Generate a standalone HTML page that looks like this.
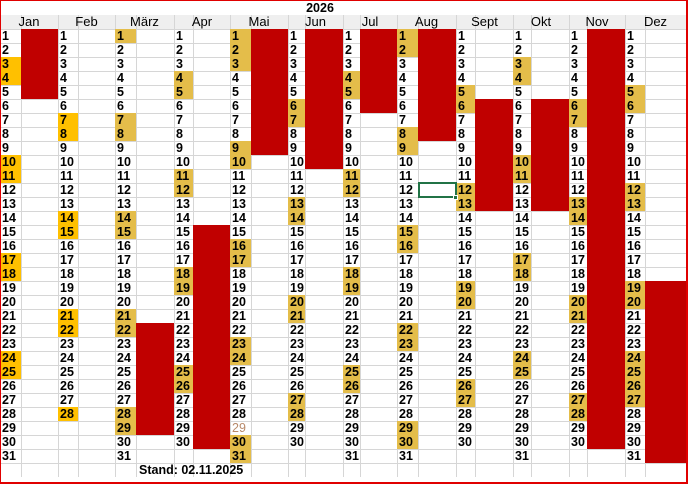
<!DOCTYPE html>
<html><head><meta charset="utf-8"><style>
*{margin:0;padding:0;box-sizing:border-box}
body{width:689px;height:484px;background:#fff;position:relative;overflow:hidden;font-family:"Liberation Sans",Arial,sans-serif;font-weight:bold;font-size:12.5px;color:#000}
#grid{position:absolute;left:0;top:15px;width:687px;height:462px;background:repeating-linear-gradient(to bottom,#d6d6d6 0 1px,transparent 1px 14px)}
.v{position:absolute;top:15px;height:462px;width:1px;background:#d6d6d6}
#hdr{position:absolute;left:0;top:15px;width:687px;height:14px;background:#efefef}
.m{position:absolute;top:15px;height:14px;line-height:14px;text-align:center;font-size:13px;font-weight:normal}
.c{position:absolute;top:29px}
.c i{display:block;font-style:normal;height:14px;line-height:14px;padding-left:2px}
.c i.o{background:#ffc000}
.c i.h{background:#e4bd4a}
.r{position:absolute;background:#c00000}
#frame{position:absolute;left:0;top:0;width:688px;height:484px;border:2px solid #e00000;border-left-width:1px;border-top-width:1px}
</style></head><body>
<div id="grid"></div>
<div id="hdr"></div>
<div class="v" style="left:21px"></div><div class="v" style="left:58px"></div><div class="v" style="left:78px"></div><div class="v" style="left:115px"></div><div class="v" style="left:136px"></div><div class="v" style="left:174px"></div><div class="v" style="left:193px"></div><div class="v" style="left:230px"></div><div class="v" style="left:251px"></div><div class="v" style="left:288px"></div><div class="v" style="left:305px"></div><div class="v" style="left:343px"></div><div class="v" style="left:360px"></div><div class="v" style="left:397px"></div><div class="v" style="left:418px"></div><div class="v" style="left:456px"></div><div class="v" style="left:475px"></div><div class="v" style="left:513px"></div><div class="v" style="left:531px"></div><div class="v" style="left:569px"></div><div class="v" style="left:587px"></div><div class="v" style="left:625px"></div><div class="v" style="left:645px"></div>
<div style="position:absolute;left:290px;top:1px;width:60px;text-align:center;line-height:14px">2026</div>
<div class="m" style="left:0;width:58px">Jan</div>
<div class="m" style="left:58px;width:57px">Feb</div>
<div class="m" style="left:115px;width:59px">März</div>
<div class="m" style="left:174px;width:56px">Apr</div>
<div class="m" style="left:230px;width:58px">Mai</div>
<div class="m" style="left:288px;width:55px">Jun</div>
<div class="m" style="left:343px;width:54px">Jul</div>
<div class="m" style="left:397px;width:59px">Aug</div>
<div class="m" style="left:456px;width:57px">Sept</div>
<div class="m" style="left:513px;width:56px">Okt</div>
<div class="m" style="left:569px;width:56px">Nov</div>
<div class="m" style="left:625px;width:61px">Dez</div>

<div class="r" style="left:21px;top:29px;width:37px;height:70px"></div>
<div class="r" style="left:136px;top:323px;width:38px;height:112px"></div>
<div class="r" style="left:193px;top:225px;width:37px;height:224px"></div>
<div class="r" style="left:251px;top:29px;width:37px;height:126px"></div>
<div class="r" style="left:305px;top:29px;width:38px;height:140px"></div>
<div class="r" style="left:360px;top:29px;width:37px;height:84px"></div>
<div class="r" style="left:418px;top:29px;width:38px;height:112px"></div>
<div class="r" style="left:475px;top:99px;width:38px;height:112px"></div>
<div class="r" style="left:531px;top:99px;width:38px;height:112px"></div>
<div class="r" style="left:587px;top:29px;width:38px;height:420px"></div>
<div class="r" style="left:645px;top:281px;width:41px;height:182px"></div>

<div class="c" style="left:0;width:21px"><i>1</i><i>2</i><i class="o">3</i><i class="o">4</i><i>5</i><i>6</i><i>7</i><i>8</i><i>9</i><i class="o">10</i><i class="o">11</i><i>12</i><i>13</i><i>14</i><i>15</i><i>16</i><i class="o">17</i><i class="o">18</i><i>19</i><i>20</i><i>21</i><i>22</i><i>23</i><i class="o">24</i><i class="o">25</i><i>26</i><i>27</i><i>28</i><i>29</i><i>30</i><i>31</i></div>
<div class="c" style="left:58px;width:20px"><i>1</i><i>2</i><i>3</i><i>4</i><i>5</i><i>6</i><i class="o">7</i><i class="o">8</i><i>9</i><i>10</i><i>11</i><i>12</i><i>13</i><i class="o">14</i><i class="o">15</i><i>16</i><i>17</i><i>18</i><i>19</i><i>20</i><i class="o">21</i><i class="o">22</i><i>23</i><i>24</i><i>25</i><i>26</i><i>27</i><i class="o">28</i></div>
<div class="c" style="left:115px;width:21px"><i class="h">1</i><i>2</i><i>3</i><i>4</i><i>5</i><i>6</i><i class="h">7</i><i class="h">8</i><i>9</i><i>10</i><i>11</i><i>12</i><i>13</i><i class="h">14</i><i class="h">15</i><i>16</i><i>17</i><i>18</i><i>19</i><i>20</i><i class="h">21</i><i class="h">22</i><i>23</i><i>24</i><i>25</i><i>26</i><i>27</i><i class="h">28</i><i class="h">29</i><i>30</i><i>31</i></div>
<div class="c" style="left:174px;width:19px"><i>1</i><i>2</i><i>3</i><i class="h">4</i><i class="h">5</i><i>6</i><i>7</i><i>8</i><i>9</i><i>10</i><i class="h">11</i><i class="h">12</i><i>13</i><i>14</i><i>15</i><i>16</i><i>17</i><i class="h">18</i><i class="h">19</i><i>20</i><i>21</i><i>22</i><i>23</i><i>24</i><i class="h">25</i><i class="h">26</i><i>27</i><i>28</i><i>29</i><i>30</i></div>
<div class="c" style="left:230px;width:21px"><i class="h">1</i><i class="h">2</i><i class="h">3</i><i>4</i><i>5</i><i>6</i><i>7</i><i>8</i><i class="h">9</i><i class="h">10</i><i>11</i><i>12</i><i>13</i><i>14</i><i>15</i><i class="h">16</i><i class="h">17</i><i>18</i><i>19</i><i>20</i><i>21</i><i>22</i><i class="h">23</i><i class="h">24</i><i>25</i><i>26</i><i>27</i><i>28</i><i style="color:#b98a6a;font-weight:normal">29</i><i class="h">30</i><i class="h">31</i></div>
<div class="c" style="left:288px;width:17px"><i>1</i><i>2</i><i>3</i><i>4</i><i>5</i><i class="h">6</i><i class="h">7</i><i>8</i><i>9</i><i>10</i><i>11</i><i>12</i><i class="h">13</i><i class="h">14</i><i>15</i><i>16</i><i>17</i><i>18</i><i>19</i><i class="h">20</i><i class="h">21</i><i>22</i><i>23</i><i>24</i><i>25</i><i>26</i><i class="h">27</i><i class="h">28</i><i>29</i><i>30</i></div>
<div class="c" style="left:343px;width:17px"><i>1</i><i>2</i><i>3</i><i class="h">4</i><i class="h">5</i><i>6</i><i>7</i><i>8</i><i>9</i><i>10</i><i class="h">11</i><i class="h">12</i><i>13</i><i>14</i><i>15</i><i>16</i><i>17</i><i class="h">18</i><i class="h">19</i><i>20</i><i>21</i><i>22</i><i>23</i><i>24</i><i class="h">25</i><i class="h">26</i><i>27</i><i>28</i><i>29</i><i>30</i><i>31</i></div>
<div class="c" style="left:397px;width:21px"><i class="h">1</i><i class="h">2</i><i>3</i><i>4</i><i>5</i><i>6</i><i>7</i><i class="h">8</i><i class="h">9</i><i>10</i><i>11</i><i>12</i><i>13</i><i>14</i><i class="h">15</i><i class="h">16</i><i>17</i><i>18</i><i>19</i><i>20</i><i>21</i><i class="h">22</i><i class="h">23</i><i>24</i><i>25</i><i>26</i><i>27</i><i>28</i><i class="h">29</i><i class="h">30</i><i>31</i></div>
<div class="c" style="left:456px;width:19px"><i>1</i><i>2</i><i>3</i><i>4</i><i class="h">5</i><i class="h">6</i><i>7</i><i>8</i><i>9</i><i>10</i><i>11</i><i class="h">12</i><i class="h">13</i><i>14</i><i>15</i><i>16</i><i>17</i><i>18</i><i class="h">19</i><i class="h">20</i><i>21</i><i>22</i><i>23</i><i>24</i><i>25</i><i class="h">26</i><i class="h">27</i><i>28</i><i>29</i><i>30</i></div>
<div class="c" style="left:513px;width:18px"><i>1</i><i>2</i><i class="h">3</i><i class="h">4</i><i>5</i><i>6</i><i>7</i><i>8</i><i>9</i><i class="h">10</i><i class="h">11</i><i>12</i><i>13</i><i>14</i><i>15</i><i>16</i><i class="h">17</i><i class="h">18</i><i>19</i><i>20</i><i>21</i><i>22</i><i>23</i><i class="h">24</i><i class="h">25</i><i>26</i><i>27</i><i>28</i><i>29</i><i>30</i><i>31</i></div>
<div class="c" style="left:569px;width:18px"><i>1</i><i>2</i><i>3</i><i>4</i><i>5</i><i class="h">6</i><i class="h">7</i><i>8</i><i>9</i><i>10</i><i>11</i><i>12</i><i class="h">13</i><i class="h">14</i><i>15</i><i>16</i><i>17</i><i>18</i><i>19</i><i class="h">20</i><i class="h">21</i><i>22</i><i>23</i><i>24</i><i>25</i><i>26</i><i class="h">27</i><i class="h">28</i><i>29</i><i>30</i></div>
<div class="c" style="left:625px;width:20px"><i>1</i><i>2</i><i>3</i><i>4</i><i class="h">5</i><i class="h">6</i><i>7</i><i>8</i><i>9</i><i>10</i><i>11</i><i class="h">12</i><i class="h">13</i><i>14</i><i>15</i><i>16</i><i>17</i><i>18</i><i class="h">19</i><i class="h">20</i><i>21</i><i>22</i><i>23</i><i class="h">24</i><i class="h">25</i><i class="h">26</i><i class="h">27</i><i>28</i><i>29</i><i>30</i><i>31</i></div>

<div style="position:absolute;left:418px;top:182px;width:39px;height:16px;border:2px solid #217346"></div>
<div style="position:absolute;left:453px;top:195px;width:5px;height:5px;background:#217346;border:1px solid #fff"></div>
<div style="position:absolute;left:139px;top:463px;line-height:14px">Stand: 02.11.2025</div>
<div id="frame"></div>
</body></html>
